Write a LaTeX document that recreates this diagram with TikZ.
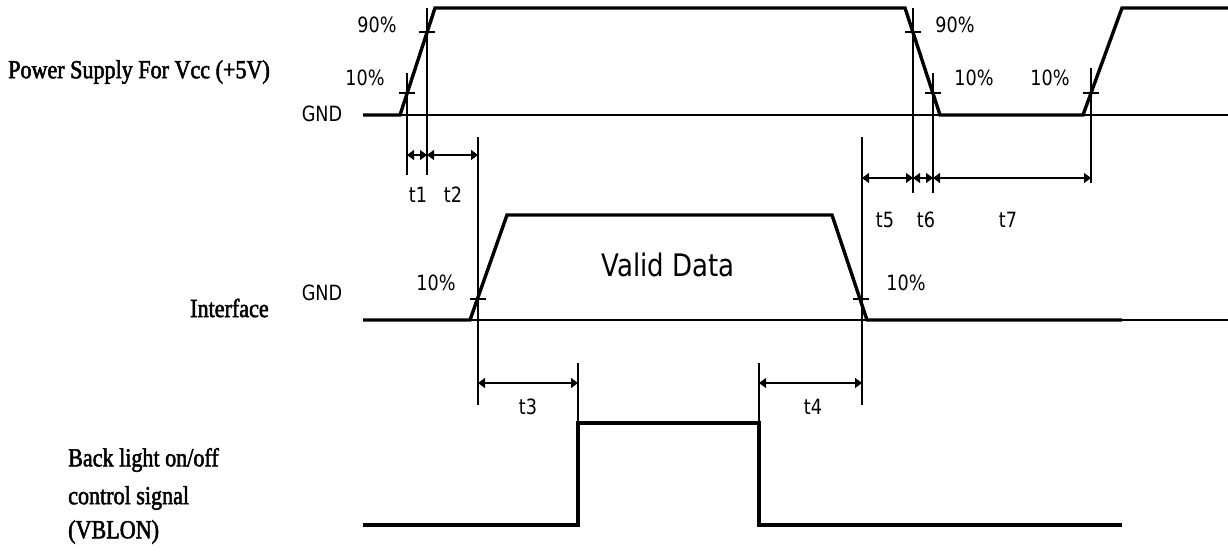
\documentclass[tikz,border=0pt]{standalone}
\usepackage{fontspec}
\usetikzlibrary{arrows.meta}
\newfontfamily\lblfont[FakeStretch=0.84]{DejaVu Sans}
\newfontfamily\sigfont[FakeStretch=0.85,FakeBold=2]{Liberation Serif}
\begin{document}
\begin{tikzpicture}[x=1pt,y=-1pt,
  sig/.style={line width=3.4pt,line join=miter},
  gnd/.style={line width=1.3pt},
  thin/.style={line width=1.2pt},
  dim/.style={line width=1.2pt,{Triangle[length=7pt,width=10pt]}-{Triangle[length=7pt,width=10pt]}},
  lbl/.style={font=\lblfont\fontsize{21}{24}\selectfont,inner sep=0pt},
  big/.style={font=\lblfont\fontsize{31}{36}\selectfont,inner sep=0pt},
  sname/.style={font=\sigfont\fontsize{26}{36}\selectfont,inner sep=0pt,anchor=west,align=left}]
\useasboundingbox (0,0) rectangle (1228,553);
\fill[white] (0,0) rectangle (1228,553);

% ---------- Power supply ----------
\coordinate (pg0) at (363,115);
\coordinate (pg1) at (1228,115);
\draw[gnd] (pg0) -- (pg1);
\draw[sig] (363,115) -- (400,115) -- (435,8) -- (905,8) -- (940,115) -- (1083,115) -- (1122,8) -- (1228,8);
% tick crosses
\coordinate (a10) at (407,93);
\coordinate (a90) at (427,32);
\coordinate (b90) at (913,32);
\coordinate (b10) at (933,93);
\coordinate (c10) at (1091,93);
\draw[thin] (399,93) -- (415,93);
\draw[thin] (419,32) -- (435,32);
\draw[thin] (905,32) -- (921,32);
\draw[thin] (925,93) -- (941,93);
\draw[thin] (1083,93) -- (1099,93);
% verticals
\coordinate (a10t) at (407,73);  \coordinate (a10b) at (407,175);
\coordinate (a90t) at (427,8);   \coordinate (a90b) at (427,175);
\coordinate (b90t) at (913,8);   \coordinate (b90b) at (913,193);
\coordinate (b10t) at (933,73);  \coordinate (b10b) at (933,193);
\coordinate (c10t) at (1091,68); \coordinate (c10b) at (1091,183);
\draw[thin] (a10t) -- (a10b);
\draw[thin] (a90t) -- (a90b);
\draw[thin] (b90t) -- (b90b);
\draw[thin] (b10t) -- (b10b);
\draw[thin] (c10t) -- (c10b);

\node[lbl] (p90a) at (377,25) {90\%};
\node[lbl] (p10a) at (365,78) {10\%};
\node[lbl] (pgnd) at (322,114) {GND};
\node[lbl] (p90b) at (955,25) {90\%};
\node[lbl] (p10b) at (974,78) {10\%};
\node[lbl] (p10c) at (1050,78) {10\%};

% ---------- Interface ----------
\coordinate (ig0) at (363,320);
\coordinate (ig1) at (1228,320);
\draw[gnd] (ig0) -- (ig1);
\draw[sig] (363,320) -- (470,320) -- (507,215) -- (832,215) -- (867,320) -- (1122,320);
\draw[thin] (470,299) -- (486,299);
\draw[thin] (853,299) -- (869,299);
\coordinate (d1t) at (478,137); \coordinate (d1b) at (478,405);
\coordinate (d2t) at (862,137); \coordinate (d2b) at (862,405);
\draw[thin] (d1t) -- (d1b);
\draw[thin] (d2t) -- (d2b);
\node[lbl] (i10a) at (436,283) {10\%};
\node[lbl] (i10b) at (906,283) {10\%};
\node[lbl] (igndl) at (322,293) {GND};
\node[big] (valid) at (668,265) {Valid Data};

% ---------- Backlight ----------
\draw[sig] (363,525) -- (578,525) -- (578,423) -- (759,423) -- (759,525) -- (1122,525);
\coordinate (e1t) at (578,363); \coordinate (e1b) at (578,423);
\coordinate (e2t) at (759,363); \coordinate (e2b) at (759,423);
\draw[thin] (e1t) -- (e1b);
\draw[thin] (e2t) -- (e2b);

% ---------- dimension arrows ----------
\draw[dim] (a10 |- 0,155) -- (a90 |- 0,155);
\draw[dim] (a90 |- 0,155) -- (d1t |- 0,155);
\draw[dim] (d2t |- 0,178) -- (b90 |- 0,178);
\draw[dim] (b90 |- 0,178) -- (b10 |- 0,178);
\draw[dim] (b10 |- 0,178) -- (c10 |- 0,178);
\draw[dim] (d1t |- 0,383) -- (e1t |- 0,383);
\draw[dim] (e2t |- 0,383) -- (d2t |- 0,383);

\node[lbl] (t1) at (418,195) {t1};
\node[lbl] (t2) at (453,195) {t2};
\node[lbl] (t5) at (885,220) {t5};
\node[lbl] (t6) at (926,220) {t6};
\node[lbl] (t7) at (1008,220) {t7};
\node[lbl] (t3) at (528,407) {t3};
\node[lbl] (t4) at (813,407) {t4};

% ---------- signal names ----------
\node[sname] (npow) at (8,72) {Power Supply For Vcc (+5V)};
\node[sname] (nint) at (190,308) {Interface};
\node[sname] (nbl1) at (68,460) {Back light on/off};
\node[sname] (nbl2) at (68,498) {control signal};
\node[sname] (nbl3) at (68,532) {(VBLON)};
\end{tikzpicture}
\end{document}
